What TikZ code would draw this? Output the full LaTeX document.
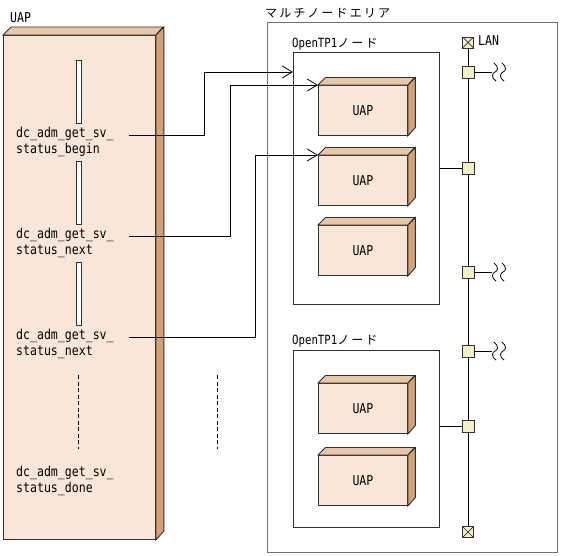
\documentclass[tikz,border=0pt]{standalone}
\usepackage{fontspec}
\setmainfont{DejaVu Sans Mono}[FakeStretch=0.85]
\newfontfamily\jp[LetterSpace=18]{Noto Sans CJK JP}
\usetikzlibrary{arrows.meta}
\definecolor{frontc}{HTML}{F8E7D8}
\definecolor{topc}{HTML}{E9C6A6}
\definecolor{sidec}{HTML}{D6A273}
\definecolor{sqc}{HTML}{F2F0C4}
\definecolor{edgec}{HTML}{303030}
\definecolor{areac}{HTML}{707070}
\tikzset{
  boxline/.style={draw=edgec, line width=0.9pt},
  codetxt/.style={anchor=west, inner sep=0pt, font=\fontsize{13.6}{14}\selectfont},
  jplabel/.style={anchor=west, inner sep=0pt, font=\fontsize{12.6}{14}\selectfont},
  conn/.style={draw=black, line width=0.8pt},
  arr/.style={conn, -{Straight Barb[length=10pt, width=12pt, line width=0.8pt]}},
  sqbox/.style={boxline, fill=sqc, minimum size=12pt, inner sep=0pt},
  termbox/.style={boxline, fill=sqc, minimum size=11pt, inner sep=0pt,
    path picture={\draw[edgec, line width=0.7pt] (path picture bounding box.north west) -- (path picture bounding box.south east)
      (path picture bounding box.north east) -- (path picture bounding box.south west);}},
  bar/.style={boxline, fill=white, minimum width=5pt, minimum height=63pt, inner sep=0pt, anchor=north},
  dashv/.style={draw=black, line width=0.8pt, dash pattern=on 4pt off 2.5pt},
  wig/.style={draw=black, line width=0.8pt},
}
% name, x, y(top), w, h, depth, text
\newcommand\cubebox[7]{%
  \node[boxline, fill=frontc, minimum width=#4pt, minimum height=#5pt, anchor=north west, inner sep=0pt,
        font=\fontsize{13.6}{14}\selectfont] (#1) at (#2,#3) {#7};
  \draw[boxline, fill=topc] (#1.north west) -- ++(#6,-#6) -- ++(#4,0) -- (#1.north east) -- cycle;
  \draw[boxline, fill=sidec] (#1.north east) -- ++(#6,-#6) -- ++(0,#5) -- (#1.south east) -- cycle;
}
\begin{document}
\begin{tikzpicture}[x=1pt, y=-1pt]
\useasboundingbox (0,0) rectangle (561,555);

% ---------- left UAP ----------
\node[jplabel, font=\fontsize{13.6}{14}\selectfont] (uaplbl) at (10,18) {UAP};
\cubebox{big}{3}{35}{152}{504}{8}{}

\node[bar] (b1) at (78.5,60) {};
\node[bar] (b2) at (78.5,161) {};
\node[bar] (b3) at (78.5,262) {};

\node[codetxt] (t1a) at (16,134) {dc\_adm\_get\_sv\_};
\node[codetxt] (t1b) at (16,150) {status\_begin};
\node[codetxt] (t2a) at (16,235) {dc\_adm\_get\_sv\_};
\node[codetxt] (t2b) at (16,251) {status\_next};
\node[codetxt] (t3a) at (16,336) {dc\_adm\_get\_sv\_};
\node[codetxt] (t3b) at (16,352) {status\_next};
\node[codetxt] (t4a) at (16,473) {dc\_adm\_get\_sv\_};
\node[codetxt] (t4b) at (16,489) {status\_done};

\coordinate (d1a) at (78,375);
\coordinate (d1b) at (78,449);
\coordinate (d2a) at (217,375);
\coordinate (d2b) at (217,449);
\draw[dashv] (d1a) -- (d1b);
\draw[dashv] (d2a) -- (d2b);

% ---------- multi node area ----------
\node[anchor=west, inner sep=0pt, font=\fontsize{12}{14}\selectfont\jp] (arealbl) at (265,13) {マルチノードエリア};
\node[draw=areac, line width=1.2pt, minimum width=290pt, minimum height=530pt, anchor=north west, inner sep=0pt] (area) at (267,22) {};

\node[jplabel] (n1lbl) at (292,44) {OpenTP1{\jp\fontsize{12}{14}\selectfont ノード}};
\node[draw=edgec, line width=0.9pt, minimum width=146pt, minimum height=252pt, anchor=north west, inner sep=0pt] (n1) at (293,52) {};
\node[jplabel] (n2lbl) at (292,341) {OpenTP1{\jp\fontsize{12}{14}\selectfont ノード}};
\node[draw=edgec, line width=0.9pt, minimum width=146pt, minimum height=177pt, anchor=north west, inner sep=0pt] (n2) at (293,350) {};

\cubebox{u1}{318}{85}{89}{50}{7.5}{UAP}
\cubebox{u2}{318}{155}{89}{50}{7.5}{UAP}
\cubebox{u3}{318}{225}{89}{50}{7.5}{UAP}
\cubebox{u4}{318}{383}{89}{50}{7.5}{UAP}
\cubebox{u5}{318}{455}{89}{50}{7.5}{UAP}

% ---------- LAN ----------
\node[termbox] (lt) at (468,42.5) {};
\node[termbox] (lb) at (468,532) {};
\node[sqbox] (q1) at (468,72) {};
\node[sqbox] (q2) at (468,168) {};
\node[sqbox] (q3) at (468,272) {};
\node[sqbox] (q4) at (468,351) {};
\node[sqbox] (q5) at (468,426) {};
\node[anchor=west, inner sep=0pt, font=\fontsize{13.6}{14}\selectfont] (lan) at (478,41) {LAN};
\draw[conn] (lt) -- (q1) -- (q2) -- (q3) -- (q4) -- (q5) -- (lb);

\draw[conn] (n1.east |- q2) -- (q2);
\draw[conn] (n2.east |- q5) -- (q5);

\coordinate (s1) at (492,72);
\coordinate (s3) at (492,272);
\coordinate (s4) at (492,351);
\draw[conn] (q1) -- (s1);
\draw[conn] (q3) -- (s3);
\draw[conn] (q4) -- (s4);
\foreach \s in {s1,s3,s4}{
  \draw[wig] ([shift={(2,-9)}]\s) .. controls ([shift={(7,-5)}]\s) and ([shift={(6,-1)}]\s) .. ([shift={(3,0)}]\s)
     .. controls ([shift={(0,1)}]\s) and ([shift={(-1,6)}]\s) .. ([shift={(4,9)}]\s);
  \draw[wig] ([shift={(10,-9)}]\s) .. controls ([shift={(15,-5)}]\s) and ([shift={(14,-1)}]\s) .. ([shift={(11,0)}]\s)
     .. controls ([shift={(8,1)}]\s) and ([shift={(7,6)}]\s) .. ([shift={(12,9)}]\s);
}

% ---------- connectors ----------
\coordinate (c1) at (129,135);
\coordinate (c2) at (129,236);
\coordinate (c3) at (129,337);
\draw[arr] (c1) -- (204,135) -- (204,72) -- (n1.west |- q1);
\draw[arr] (c2) -- (230,236) -- (230,85) -- (u1.north west);
\draw[arr] (c3) -- (255,337) -- (255,155) -- (u2.north west);
\end{tikzpicture}
\end{document}
